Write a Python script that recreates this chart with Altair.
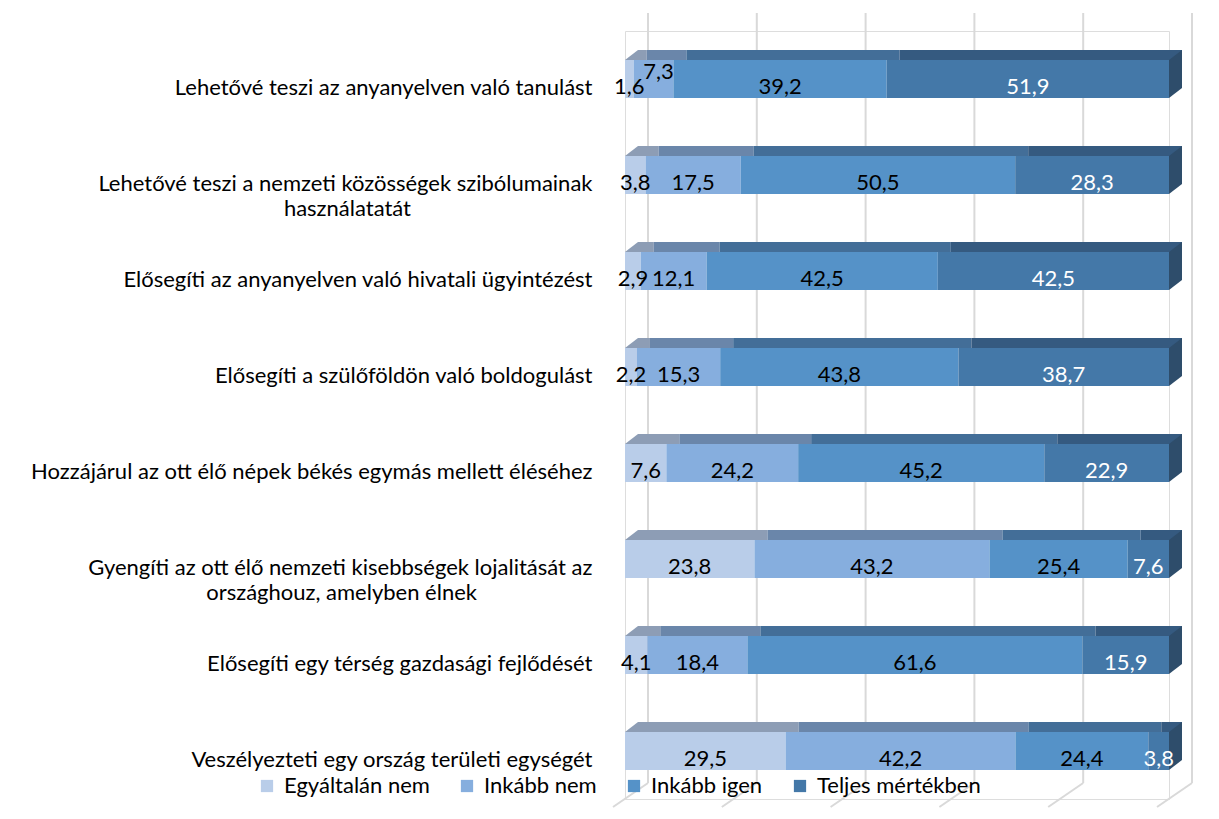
import altair as alt
import pandas as pd

EM = "\u2003"
ZW = "\u200b"
rows = [
    "Lehetővé teszi az anyanyelven való tanulást",
    "Lehetővé teszi a nemzeti közösségek szibólumainak\nhasználatatát" + EM * 11 + ZW,
    "Elősegíti az anyanyelven való hivatali ügyintézést",
    "Elősegíti a szülőföldön való boldogulást",
    "Hozzájárul az ott élő népek békés egymás mellett éléséhez",
    "Gyengíti az ott élő nemzeti kisebbségek lojalitását az\nországhouz, amelyben élnek" + EM * 7 + ZW,
    "Elősegíti egy térség gazdasági fejlődését",
    "Veszélyezteti egy ország területi egységét",
]
series = ["Egyáltalán nem", "Inkább nem", "Inkább igen", "Teljes mértékben"]
s1 = [1.6, 3.8, 2.9, 2.2, 7.6, 23.8, 4.1, 29.5]
s2 = [7.3, 17.5, 12.1, 15.3, 24.2, 43.2, 18.4, 42.2]
s3 = [39.2, 50.5, 42.5, 43.8, 45.2, 25.4, 61.6, 24.4]
s4 = [51.9, 28.3, 42.5, 38.7, 22.9, 7.6, 15.9, 3.8]
front_colors = ["#b9cde9", "#86aede", "#5592c8", "#4478a8"]
top_colors = ["#8d9db5", "#6a86aa", "#436e98", "#355a80"]
end_color = "#2e4d6b"
label_colors = ["#000000", "#000000", "#000000", "#ffffff"]
grid_vals = [0, 20, 40, 60, 80, 100]

recs = []
for i, r in enumerate(rows):
    vals = [s1[i], s2[i], s3[i], s4[i]]
    tot = sum(vals)
    cum = 0.0
    prev = None
    for k, v in enumerate(vals):
        st = cum / tot * 100
        cum += v
        en = cum / tot * 100
        crowded = prev is not None and prev < 2 and v < 10
        recs.append(dict(row=r, series=series[k], value=v, start=st, end=en,
                         mid=(st + en) / 2, text=f"{v:.1f}".replace(".", ","),
                         lcol=label_colors[k], top=top_colors[k], crowded=crowded,
                         first=(k == 0), last=(k == 3)))
        prev = v
df = pd.DataFrame(recs)
gdf = pd.DataFrame({"g": grid_vals})

FONT = "Lato"
FS = 22
xs = alt.Scale(domain=[0, 100])
ys = alt.Scale(domain=rows, paddingInner=0, paddingOuter=0)

grid = alt.Chart(gdf).mark_rule(color="#d9d9d9", strokeWidth=2, xOffset=23).encode(
    x=alt.X("g:Q", scale=xs, axis=None), y=alt.value(-18), y2=alt.value(752))
floor = alt.Chart(gdf).mark_rule(color="#d9d9d9", strokeWidth=2, xOffset=23, x2Offset=-12).encode(
    x=alt.X("g:Q", scale=xs, axis=None), x2="g:Q", y=alt.value(752), y2=alt.value(776))
border = alt.Chart(gdf.head(1)).mark_rule(color="#d0d0d0", strokeWidth=2).encode(
    x=alt.value(-620), y=alt.value(-31), y2=alt.value(788))

ybase = alt.Y("row:N", scale=ys, sort=rows,
              axis=alt.Axis(title=None, domain=False, ticks=False, labelPadding=33,
                            labelOffset=9, labelFontSize=FS, labelFont=FONT,
                            labelColor="#000000", labelLimit=800, labelAlign="right",
                            labelExpr="split(datum.label, '\\n')", labelLineHeight=25,
                            grid=False))

topface = alt.Chart(df).mark_bar(size=10, yOffset=-24, xOffset=13, x2Offset=13).encode(
    x=alt.X("start:Q", scale=xs, axis=None), x2="end:Q", y=ybase,
    color=alt.Color("top:N", scale=None))

tri = alt.Chart(df).transform_filter("datum.first").mark_point(
    shape="M -1 0.769 L 1 -0.769 L 1 0.769 Z", size=169, filled=True, opacity=1,
    strokeWidth=0, xOffset=6.5, yOffset=-24).encode(
    x=alt.X("start:Q", scale=xs, axis=None), y=ybase,
    color=alt.Color("top:N", scale=None))

front = alt.Chart(df).mark_bar(size=38).encode(
    x=alt.X("start:Q", scale=xs, axis=None), x2="end:Q", y=ybase,
    color=alt.Color("series:N", sort=series,
                    scale=alt.Scale(domain=series, range=front_colors),
                    legend=alt.Legend(title=None, orient="none", direction="horizontal",
                                      legendX=-369, legendY=744, symbolType="square",
                                      symbolSize=150, symbolStrokeWidth=0,
                                      labelFontSize=FS, labelFont=FONT, labelColor="#000000",
                                      columnPadding=26, labelOffset=6, padding=0,
                                      labelLimit=400)))

endface = alt.Chart(df).transform_filter("datum.last").mark_point(
    shape="M -0.2708 -0.5833 L 0.2708 -1 L 0.2708 0.5833 L -0.2708 1 Z", size=2304,
    filled=True, opacity=1, strokeWidth=0, xOffset=6.5, yOffset=-5, color=end_color).encode(
    x=alt.X("end:Q", scale=xs, axis=None), y=ybase)

labels = alt.Chart(df).transform_filter("!datum.crowded").mark_text(
    fontSize=FS, font=FONT, yOffset=8, baseline="middle").encode(
    x=alt.X("mid:Q", scale=xs, axis=None), y=ybase, text="text:N",
    color=alt.Color("lcol:N", scale=None))
labels2 = alt.Chart(df).transform_filter("datum.crowded").mark_text(
    fontSize=FS, font=FONT, yOffset=-7, dx=5, baseline="middle").encode(
    x=alt.X("mid:Q", scale=xs, axis=None), y=ybase, text="text:N",
    color=alt.Color("lcol:N", scale=None))

chart = alt.layer(border, grid, floor, topface, tri, front, endface, labels, labels2).properties(
    width=544, height=768, autosize=alt.AutoSizeParams(type="none"),
    padding={"left": 617, "top": 23, "right": 40, "bottom": 20},
).configure_view(stroke=None).configure(background="#ffffff")

chart.save("out.html", embed_options={"renderer": "svg", "actions": False})
